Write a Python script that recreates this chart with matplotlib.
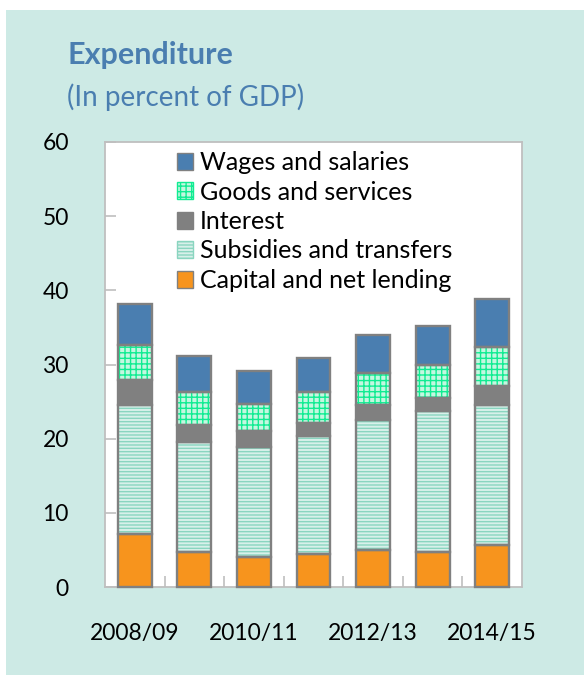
import matplotlib
matplotlib.use("Agg")
import matplotlib.pyplot as plt
import numpy as np
from matplotlib.patches import Rectangle

plt.rcParams['font.family'] = ['Lato', 'DejaVu Sans']
plt.rcParams['hatch.linewidth'] = 1.0

years = ['2008/09', '2009/10', '2010/11', '2011/12', '2012/13', '2013/14', '2014/15']
capital = [7.1, 4.7, 4.1, 4.4, 5.0, 4.7, 5.6]
subsidies = [17.5, 14.8, 14.8, 15.9, 17.5, 19.0, 19.0]
interest = [3.3, 2.3, 2.1, 1.8, 2.1, 1.8, 2.5]
goods = [4.7, 4.5, 3.7, 4.2, 4.2, 4.4, 5.2]
wages = [5.6, 4.9, 4.4, 4.6, 5.2, 5.3, 6.5]

fig = plt.figure(figsize=(5.84, 6.75), dpi=100)
fig.patch.set_facecolor('white')
# teal panel behind everything
fig.patches.append(Rectangle((6 / 584, 0), 1, 1 - 10 / 675, transform=fig.transFigure,
                             facecolor='#cdeae5', edgecolor='none', zorder=-10))

ax = fig.add_axes([105 / 584, 1 - 587 / 675, 417 / 584, 445 / 675])
ax.set_facecolor('white')

x = np.arange(len(years))
w = 0.57
edge = '#808080'

# series: label, values, face, hatch, hatch colour
series = [
    ('Capital and net lending', capital, '#f7941d', None, None),
    ('Subsidies and transfers', subsidies, '#d8f0ea', '-----', '#8ad5c0'),
    ('Interest', interest, '#808080', None, None),
    ('Goods and services', goods, '#c4f7e0', '+++', '#10ec92'),
    ('Wages and salaries', wages, '#4a7eb0', None, None),
]

bottom = np.zeros(len(years))
handles = []
for label, vals, face, hatch, hcol in series:
    vals = np.array(vals)
    if hatch:
        ax.bar(x, vals, w, bottom=bottom, color=face, hatch=hatch,
               edgecolor=hcol, linewidth=0, zorder=2)
    else:
        ax.bar(x, vals, w, bottom=bottom, color=face, linewidth=0, zorder=2)
    ax.bar(x, vals, w, bottom=bottom, fill=False, edgecolor=edge,
           linewidth=1.7, zorder=3, clip_on=False)
    h = Rectangle((0, 0), 1, 1, facecolor=face, hatch=hatch,
                  edgecolor=hcol if hatch else edge, linewidth=1.0)
    handles.append((h, label))
    bottom += vals

ax.set_xlim(-0.5, 6.5)
ax.set_ylim(0, 60)
ax.set_yticks(range(0, 61, 10))
ax.set_xticks(x[::2])
ax.set_xticklabels(years[::2])
ax.set_xticks(np.arange(0.5, 6, 1), minor=True)
ax.tick_params(axis='x', which='major', length=0, pad=26, labelsize=16.5)
ax.tick_params(axis='x', which='minor', direction='in', length=8, color='#bfbfbf', width=1.2)
ax.tick_params(axis='y', direction='in', length=8, color='#bfbfbf', width=1.2,
               pad=26, labelsize=16.5)
for s in ax.spines.values():
    s.set_color('#bfbfbf')
    s.set_linewidth(1.3)

hs = [h for h, l in handles][::-1]
ls = [l for h, l in handles][::-1]
ax.legend(hs, ls, loc='upper left', bbox_to_anchor=(177 / 584, 1 - 151 / 675),
          bbox_transform=fig.transFigure, frameon=False, fontsize=18,
          handlelength=0.65, handleheight=0.65, handletextpad=0.25,
          labelspacing=0.26, borderpad=0, borderaxespad=0)

fig.text(67 / 584, 1 - 64 / 675, 'Expenditure', fontsize=22, fontweight='bold',
         color='#4a7eb0', va='baseline')
fig.text(67 / 584, 1 - 106 / 675, '(In percent of GDP)', fontsize=20,
         color='#4a7eb0', va='baseline')

fig.savefig('out.png', dpi=100, facecolor=fig.get_facecolor())
